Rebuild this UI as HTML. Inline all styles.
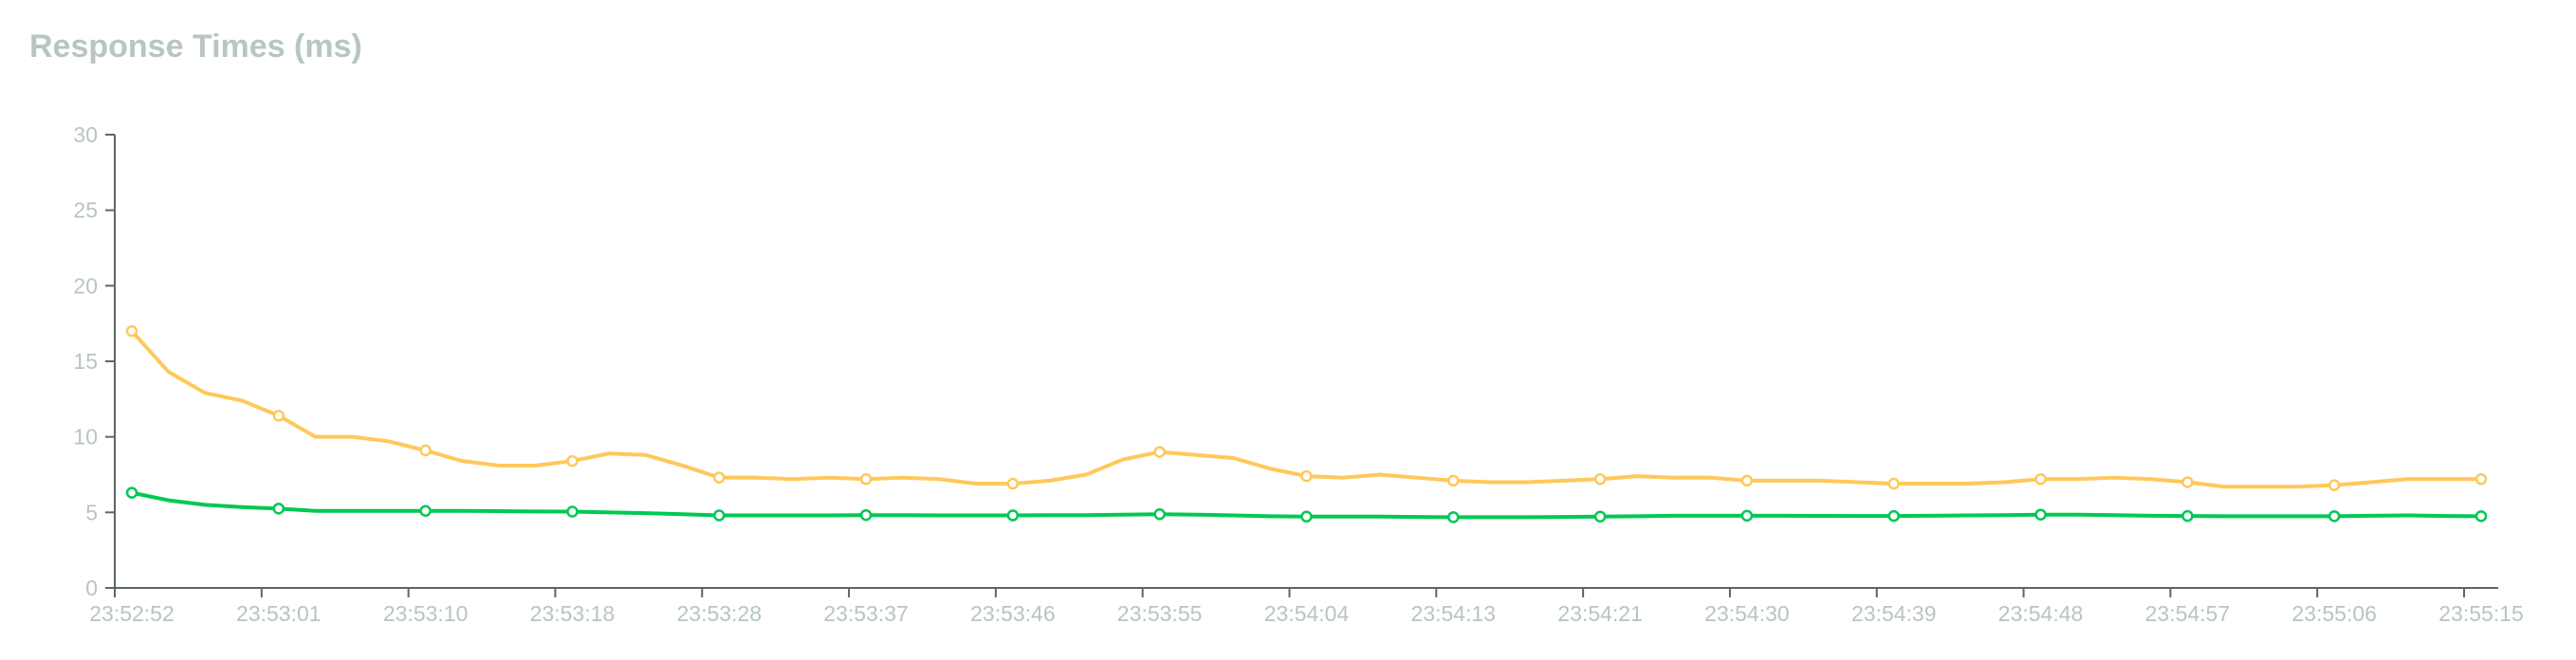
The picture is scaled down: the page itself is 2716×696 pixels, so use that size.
<!DOCTYPE html>
<html><head><meta charset="utf-8"><style>
html,body{margin:0;padding:0;background:#fff;width:2716px;height:696px;overflow:hidden;font-family:"Liberation Sans",sans-serif}
</style></head><body>
<svg width="2716" height="696">
<text x="31" y="60" font-size="34" font-weight="bold" fill="#b7c6be">Response Times (ms)</text>
<g id="plot"></g>
</svg>
<script>
const timeLabels=["23:52:52","23:53:01","23:53:10","23:53:18","23:53:28","23:53:37","23:53:46","23:53:55","23:54:04","23:54:13","23:54:21","23:54:30","23:54:39","23:54:48","23:54:57","23:55:06","23:55:15"];
const yTicks=[0,5,10,15,20,25,30];
const slowSeries=[17,14.3,12.9,12.4,11.4,10,10,9.7,9.1,8.4,8.1,8.1,8.4,8.9,8.8,8.1,7.3,7.3,7.2,7.3,7.2,7.3,7.2,6.9,6.9,7.1,7.5,8.5,9.0,8.8,8.6,7.9,7.4,7.3,7.5,7.3,7.1,7.0,7.0,7.1,7.2,7.4,7.3,7.3,7.1,7.1,7.1,7.0,6.9,6.9,6.9,7.0,7.2,7.2,7.3,7.2,7.0,6.7,6.7,6.7,6.8,7.0,7.2,7.2,7.2];
const fastSeries=[6.3,5.8,5.5,5.35,5.25,5.1,5.1,5.1,5.1,5.1,5.08,5.06,5.05,5.0,4.95,4.88,4.8,4.8,4.8,4.8,4.82,4.82,4.8,4.8,4.8,4.82,4.82,4.85,4.88,4.85,4.8,4.75,4.72,4.72,4.72,4.7,4.68,4.68,4.68,4.7,4.72,4.75,4.78,4.78,4.78,4.78,4.77,4.76,4.76,4.78,4.8,4.82,4.85,4.85,4.82,4.78,4.76,4.75,4.75,4.75,4.75,4.78,4.8,4.76,4.75];
const NS="http://www.w3.org/2000/svg";
const g=document.getElementById('plot');
const X0=139,DX=(2616-139)/(slowSeries.length-1),Y0=620,Y1=142,YMAX=30;
function xs(i){return X0+i*DX}
function ys(v){return Y0-(v/YMAX)*(Y0-Y1)}
function mk(t,a){const e=document.createElementNS(NS,t);for(const k in a)e.setAttribute(k,a[k]);g.appendChild(e);return e}
const axisC="#5b6862",lblC="#b7c6be";
let e=mk('line',{x1:121,y1:Y1,x2:121,y2:Y0,stroke:axisC,'stroke-width':2});


e=mk('line',{x1:120,y1:Y0,x2:2634,y2:Y0,stroke:axisC,'stroke-width':2});


yTicks.forEach(v=>{
 const y=ys(v);
 let t=mk('line',{x1:111,y1:y,x2:121,y2:y,stroke:axisC,'stroke-width':2});
 
 
 let l=mk('text',{x:103,y:y+8,'text-anchor':'end','font-size':23,fill:lblC});
 l.textContent=v;
 
 
});
timeLabels.forEach((s,k)=>{
 const xp=xs(k*4);
 let t=mk('line',{x1:xp-18,y1:Y0,x2:xp-18,y2:Y0+10,stroke:axisC,'stroke-width':2});
 
 
 let l=mk('text',{x:xp,y:655,'text-anchor':'middle','font-size':23,fill:lblC});
 l.textContent=s;
 
 
});
function series(arr,color,name){
 const p=mk('polyline',{points:arr.map((v,i)=>xs(i)+','+ys(v)).join(' '),fill:'none',stroke:color,'stroke-width':4,'stroke-linejoin':'round'});
 
 
 arr.forEach((v,i)=>{if(i%4)return;
  const c=mk('circle',{cx:xs(i),cy:ys(v),r:5,fill:'#fff',stroke:color,'stroke-width':2.5});
  
  
 });
}
series(slowSeries,'#ffc85a','slow-response');
series(fastSeries,'#00c853','fast-response');
</script>
</body></html>
